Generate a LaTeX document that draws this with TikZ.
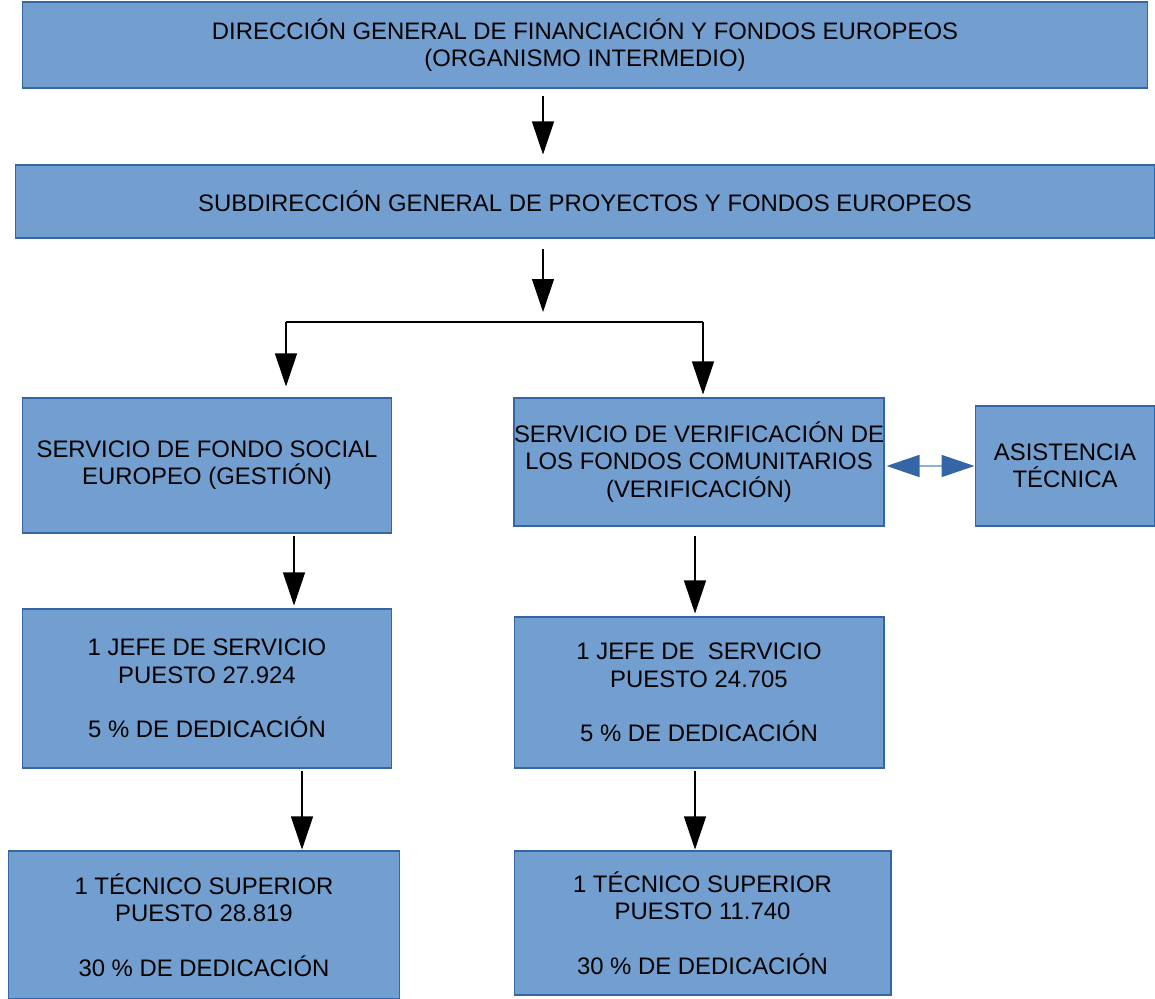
\documentclass[tikz,border=0pt]{standalone}
\usepackage{fontspec}
\setmainfont{Liberation Sans}
\usepackage{xcolor}
\usepackage{tikz}
\usetikzlibrary{arrows.meta, positioning, calc}
\definecolor{boxfill}{HTML}{729FCF}
\definecolor{boxline}{HTML}{3465A4}
\definecolor{linkline}{HTML}{8CB0DC}

\begin{document}
\begin{tikzpicture}[x=0.02cm, y=-0.02cm,
    unit/.style={draw=boxline, fill=boxfill, line width=0.6pt, align=center, inner sep=0pt, font=\fontsize{13.6}{15.5}\selectfont},
    down/.style={line width=0.6pt, -{Triangle[length=0.66cm, width=0.44cm]}},
    both/.style={draw=linkline, line width=1pt, {Triangle[length=0.66cm, width=0.44cm, color=boxline]}-{Triangle[length=0.66cm, width=0.44cm, color=boxline]}}]
      \useasboundingbox (0,0) rectangle (1155,999);

      \node[unit, minimum width=22.52cm, minimum height=1.72cm] (dgf) at (585,45) {DIRECCIÓN GENERAL DE FINANCIACIÓN Y FONDOS EUROPEOS\\(ORGANISMO INTERMEDIO)};
      \node[unit, minimum width=22.8cm, minimum height=1.46cm] (sgp) at (585,201.5) {SUBDIRECCIÓN GENERAL DE PROYECTOS Y FONDOS EUROPEOS};

      \node[unit, minimum width=7.4cm, minimum height=2.7cm] (sfse) at (207,465.5) {SERVICIO DE FONDO SOCIAL\\EUROPEO (GESTIÓN)};
      \node[unit, minimum width=7.4cm, minimum height=2.56cm] (svfc) at (699,462) {SERVICIO DE VERIFICACIÓN DE\\LOS FONDOS COMUNITARIOS\\(VERIFICACIÓN)};
      \node[unit, minimum width=3.6cm, minimum height=2.4cm] (asis) at (1065,466) {ASISTENCIA\\TÉCNICA};

      \node[unit, minimum width=7.4cm, minimum height=3.18cm] (jefeA) at (207,688.5) {1 JEFE DE SERVICIO\\PUESTO 27.924\\[15.5pt]5 \% DE DEDICACIÓN};
      \node[unit, minimum width=7.4cm, minimum height=3.02cm] (jefeB) at (699,692.5) {1 JEFE DE\ \ SERVICIO\\PUESTO 24.705\\[15.5pt]5 \% DE DEDICACIÓN};

      \node[unit, minimum width=7.84cm, minimum height=2.96cm] (tecA) at (204,925) {1 TÉCNICO SUPERIOR\\PUESTO 28.819\\[15.5pt]30 \% DE DEDICACIÓN};
      \node[unit, minimum width=7.54cm, minimum height=2.88cm] (tecB) at (702.5,923) {1 TÉCNICO SUPERIOR\\PUESTO 11.740\\[15.5pt]30 \% DE DEDICACIÓN};

      \coordinate (hub) at (543,322);
      \coordinate (brL) at (286,322);
      \coordinate (brR) at (703,322);

      \draw[down, shorten <=0.14cm, shorten >=0.2cm] (543,0 |- dgf.south) -- (543,0 |- sgp.north);
      \draw[down, shorten <=0.2cm, shorten >=0.2cm] (543,0 |- sgp.south) -- (hub);
      \draw[line width=0.6pt] (brL) -- (brR);
      \draw[down, shorten >=0.22cm] (brL) -- (brL |- sfse.north);
      \draw[down, shorten >=0.06cm] (brR) -- (brR |- svfc.north);

      \foreach \x/\a/\b/\s/\e in {294/sfse/jefeA/0.04/0.06, 302/jefeA/tecA/0.04/0.02, 695/svfc/jefeB/0.18/0.06, 695/jefeB/tecB/0.04/0.02} {
        \draw[down, shorten <=\s cm, shorten >=\e cm] (\x,0 |- \a.south) -- (\x,0 |- \b.north);
      }

      \draw[both, shorten <=0.04cm] (svfc.east |- asis.west) -- (asis.west);
    \end{tikzpicture}
\end{document}
